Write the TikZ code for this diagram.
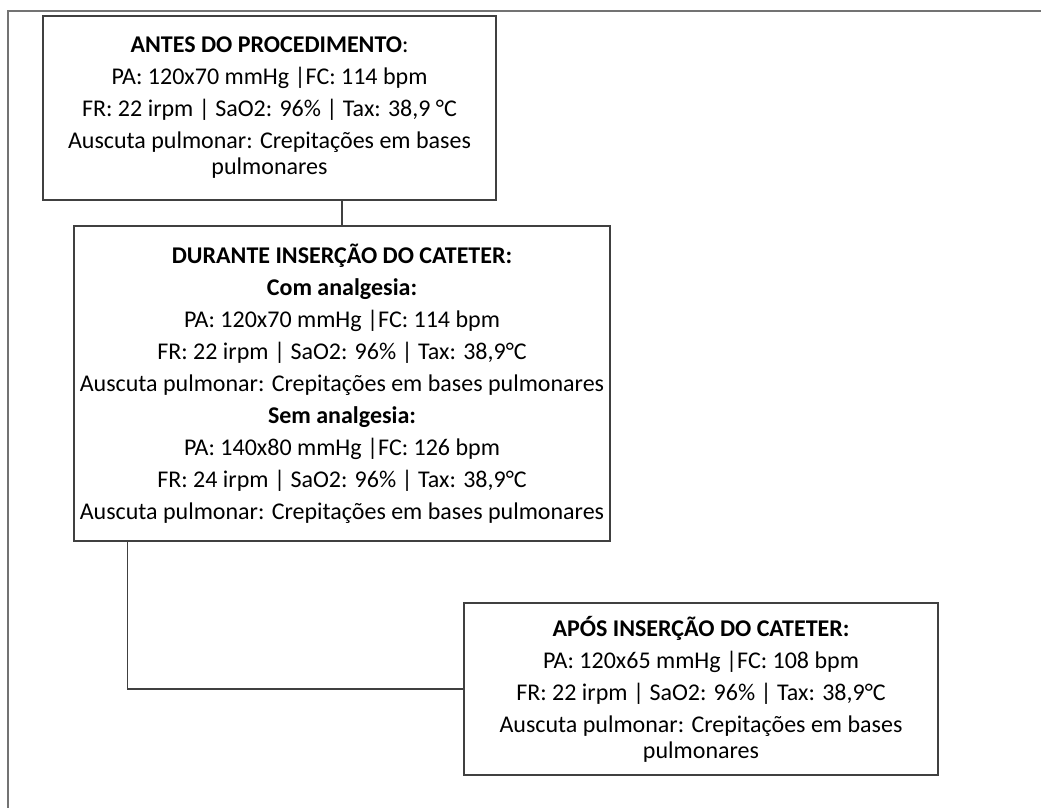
\documentclass[tikz,border=0pt]{standalone}
\usepackage{fontspec}
\setmainfont{Carlito}
\begin{document}
\begin{tikzpicture}[x=0.75pt,y=-0.75pt]
		\tikzstyle{box}=[rectangle,draw=black!75,line width=1.1pt,align=center,inner sep=0pt,font=\fontsize{18}{19.5}\selectfont]
		\clip (0,0) rectangle (1041,807);
		\draw[black!55,line width=1.6pt] (8,11) rectangle (1100,900);
		
		\begin{scope}
		\node[box,minimum width=339.75pt,minimum height=138pt] (antes) at (269.5,108)
		{{\bfseries ANTES DO PROCEDIMENTO}:\\[4.5pt]
		PA: 120x70 mmHg |FC: 114 bpm\\[4.5pt]
		FR: 22 irpm | SaO2: 96\% | Tax: 38,9 °C\\[4.5pt]
		Auscuta pulmonar: Crepitações em bases\\
		pulmonares};
		\node[box,minimum width=402pt,minimum height=236.25pt] (durante) at (342,383.5)
		{\bfseries DURANTE INSERÇÃO DO CATETER:\\[4.5pt]
		\bfseries Com analgesia:\\[4.5pt]
		PA: 120x70 mmHg |FC: 114 bpm\\[4.5pt]
		FR: 22 irpm | SaO2: 96\% | Tax: 38,9°C\\[4.5pt]
		Auscuta pulmonar: Crepitações em bases pulmonares\\[4.5pt]
		\bfseries Sem analgesia:\\[4.5pt]
		PA: 140x80 mmHg |FC: 126 bpm\\[4.5pt]
		FR: 24 irpm | SaO2: 96\% | Tax: 38,9°C\\[4.5pt]
		Auscuta pulmonar: Crepitações em bases pulmonares};
		\node[box,minimum width=355.5pt,minimum height=129pt] (apos) at (701,689)
		{\bfseries APÓS INSERÇÃO DO CATETER:\\[4.5pt]
		PA: 120x65 mmHg |FC: 108 bpm\\[4.5pt]
		FR: 22 irpm | SaO2: 96\% | Tax: 38,9°C\\[4.5pt]
		Auscuta pulmonar: Crepitações em bases\\
		pulmonares};
		\end{scope}
		
		\path[-,draw=black!75,line width=1.1pt]
		(durante.north |- antes.south) edge (durante.north)
		([xshift=40.5pt]durante.south west) edge[to path={|- (\tikztotarget)}] (apos.west)
		;
		
\end{tikzpicture}
\end{document}
